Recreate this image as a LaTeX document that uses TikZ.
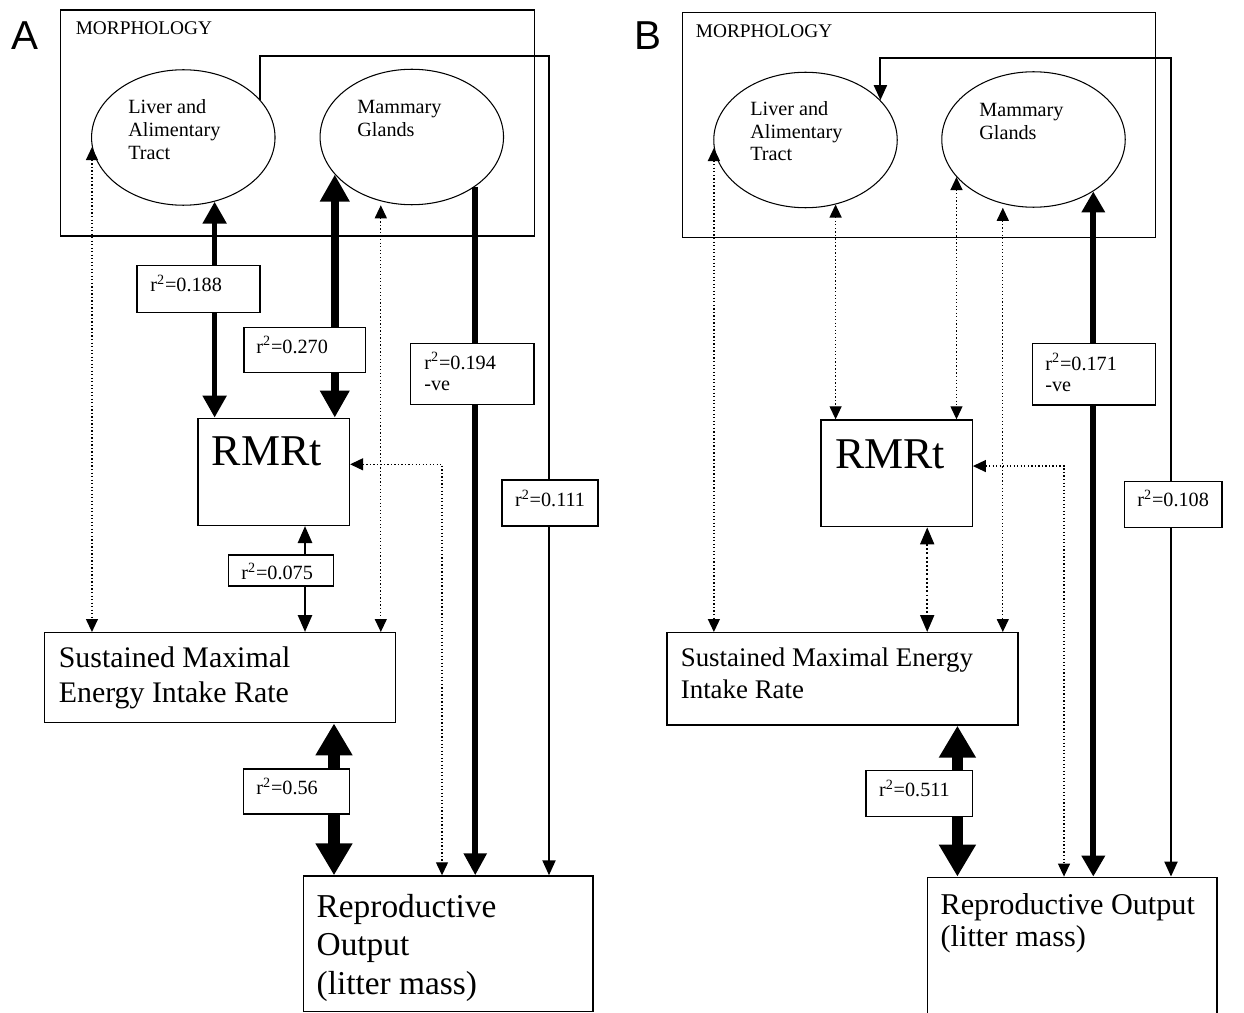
\documentclass[tikz,border=0pt]{standalone}
\usepackage{fontspec}
\setmainfont{Liberation Serif}
\newfontfamily\panelfont{Liberation Sans}
\usetikzlibrary{arrows.meta,shapes.geometric,fit}

\tikzset{
  box/.style={draw, line width=0.8pt, inner sep=0pt},
  rbox/.style={draw, fill=white, line width=0.8pt, inner sep=0pt},
  organ/.style={draw, ellipse, line width=0.6pt, inner sep=0pt,
    minimum width=3.67cm, minimum height=2.71cm},
  rtext/.style={inner sep=0pt, anchor=base west, font=\fontsize{11.5}{13}\selectfont},
  organtext/.style={inner sep=0pt, anchor=north west, align=left,
    font=\fontsize{11.5}{13}\selectfont},
  panel/.style={inner sep=0pt, anchor=base west, font=\panelfont\fontsize{23}{23}\selectfont},
  dots/.style={line width=0.7pt, dash pattern=on 0.7pt off 1.3pt,
    >={Triangle[width=0.24cm,length=0.26cm]}},
  link/.style={line width=1.2pt, >={Triangle[width=0.26cm,length=0.3cm]}}
}

\begin{document}
\begin{tikzpicture}[x=0.02cm, y=-0.02cm]
  \useasboundingbox (0,0) rectangle (1244,1013);

  % panel A
  \node[panel] (labA) at (11,50) {A};
  \node[box, fit={(60.5,10) (534.6,236)}] (morphA) {};
  \node[organtext, font=\fontsize{11}{13}\selectfont] (morphAtxt) at (75.4,21) {MORPHOLOGY};
  \node[organ] (liverA) at (183.3,137.5) {};
  \node[organ] (mamA) at (411.8,137) {};
  \node[organtext] (liverAtxt) at (128,99.5) {Liver and\\Alimentary\\Tract};
  \node[organtext] (mamAtxt) at (357,99.8) {Mammary\\Glands};
  \node[box, fit={(197.9,418.3) (349.4,525.3)}] (rmrA) {};
  \node[inner sep=0pt, anchor=north west, font=\fontsize{25}{30}\selectfont] (rmrAtxt) at (211.6,436.5) {RMRt};
  \node[box, fit={(44.3,632.7) (395.4,722.7)}] (susA) {};
  \node[organtext, font=\fontsize{17}{19.9}\selectfont] (susAtxt) at (58.5,646) {Sustained Maximal\\Energy Intake Rate};
  \node[box, fit={(303.7,876) (593,1011.7)}] (repA) {};
  \node[organtext, font=\fontsize{19}{21.9}\selectfont] (repAtxt) at (316.3,893.6) {Reproductive\\Output\\(litter mass)};

  \draw[line width=3pt, >={Triangle[width=0.46cm,length=0.44cm]}, <->] (liverA.-64) -- (liverA.-64 |- rmrA.north);
  \draw[line width=4.8pt, >={Triangle[width=0.56cm,length=0.54cm]}, <->] (mamA.206) -- (mamA.206 |- rmrA.north);
  \draw[line width=3.2pt, >={Triangle[width=0.44cm,length=0.44cm]}, ->] (mamA.-38) -- (mamA.-38 |- repA.north);
  \draw[link, ->] (liverA.26) |- (549,56) -- (549,0 |- repA.north);
  \draw[dots, <->] (liverA.186) -- (liverA.186 |- susA.north);
  \draw[dots, <->] (380.8,0 |- mamA.south) -- (380.8,0 |- susA.north);
  \draw[line width=1.5pt, >={Triangle[width=0.28cm,length=0.34cm]}, <->] (305,0 |- rmrA.south) -- (305,0 |- susA.north);
  \draw[dots, <->] ([yshift=0.15cm]rmrA.east) -| (442,0 |- repA.north);
  \draw[line width=6.5pt, >={Triangle[width=0.7cm,length=0.64cm]}, <->] (334,0 |- susA.south) -- (334,0 |- repA.north);

  \node[rbox, fit={(137,265.7) (260,312.3)}] (r188) {};
  \node[rtext] (r188txt) at (150,291.8) {r\textsuperscript{2}=0.188};
  \node[rbox, fit={(244,327.7) (365.5,372.7)}] (r270) {};
  \node[rtext] (r270txt) at (256,353.5) {r\textsuperscript{2}=0.270};
  \node[rbox, fit={(410.6,343.3) (533.9,404.3)}] (r194) {};
  \node[rtext] (r194txt) at (424,369.5) {r\textsuperscript{2}=0.194};
  \node[rtext] (r194neg) at (424,390.5) {-ve};
  \node[rbox, fit={(502,480) (598,526)}] (r111) {};
  \node[rtext] (r111txt) at (514.7,506.8) {r\textsuperscript{2}=0.111};
  \node[rbox, fit={(228.5,555) (333.7,586)}] (r075) {};
  \node[rtext] (r075txt) at (241,579.8) {r\textsuperscript{2}=0.075};
  \node[rbox, fit={(243.2,769) (349.5,814)}] (r56) {};
  \node[rtext] (r56txt) at (256,794.8) {r\textsuperscript{2}=0.56};

  % panel B
  \node[panel] (labB) at (634,50) {B};
  \node[box, fit={(682.5,12.3) (1155.2,237.3)}] (morphB) {};
  \node[organtext, font=\fontsize{11}{13}\selectfont] (morphBtxt) at (695.6,24.5) {MORPHOLOGY};
  \node[organ] (liverB) at (805.5,140) {};
  \node[organ] (mamB) at (1033.5,139.5) {};
  \node[organtext] (liverBtxt) at (750,100.8) {Liver and\\Alimentary\\Tract};
  \node[organtext] (mamBtxt) at (979,102.8) {Mammary\\Glands};
  \node[box, fit={(821,420) (972.2,526.7)}] (rmrB) {};
  \node[inner sep=0pt, anchor=north west, font=\fontsize{25}{30}\selectfont] (rmrBtxt) at (834.9,438.9) {RMRt};
  \node[box, fit={(667,632.7) (1018,725)}] (susB) {};
  \node[organtext, font=\fontsize{15.3}{18}\selectfont] (susBtxt) at (680.5,647.4) {Sustained Maximal Energy\\Intake Rate};
  \node[box, fit={(927.2,877.3) (1217,1030)}] (repB) {};
  \node[organtext, font=\fontsize{17.2}{18.2}\selectfont] (repBtxt) at (940.3,893) {Reproductive Output\\(litter mass)};

  \draw[dots, <->] (liverB.-65) -- (liverB.-65 |- rmrB.north);
  \draw[dots, <->] (mamB.206) -- (mamB.206 |- rmrB.north);
  \draw[dots, <->] (1002.8,0 |- mamB.south) -- (1002.8,0 |- susB.north);
  \draw[dots, <->] (liverB.185) -- (liverB.185 |- susB.north);
  \draw[dots, line width=1.1pt, dash pattern=on 1.1pt off 1.3pt, >={Triangle[width=0.28cm,length=0.34cm]}, <->] (927.2,0 |- rmrB.south) -- (927.2,0 |- susB.north);
  \draw[dots, <->] ([yshift=0.146cm]rmrB.east) -| (1064,0 |- repB.north);
  \draw[line width=6.3pt, >={Triangle[width=0.7cm,length=0.64cm]}, <->] (957.4,0 |- susB.south) -- (957.4,0 |- repB.north);
  \draw[line width=3.5pt, >={Triangle[width=0.45cm,length=0.42cm]}, <->] (mamB.-41) -- (mamB.-41 |- repB.north);
  \draw[link, <->] (liverB.28) |- (1171,58.3) -- (1171,0 |- repB.north);

  \node[rbox, fit={(1032.7,343.3) (1155.2,405)}] (r171) {};
  \node[rtext] (r171txt) at (1045,370.1) {r\textsuperscript{2}=0.171};
  \node[rtext] (r171neg) at (1045,391.2) {-ve};
  \node[rbox, fit={(1124.6,481.7) (1222,527.3)}] (r108) {};
  \node[rtext] (r108txt) at (1137,506.8) {r\textsuperscript{2}=0.108};
  \node[rbox, fit={(866,770.7) (972.2,816.7)}] (r511) {};
  \node[rtext] (r511txt) at (878.7,796.8) {r\textsuperscript{2}=0.511};
\end{tikzpicture}
\end{document}
